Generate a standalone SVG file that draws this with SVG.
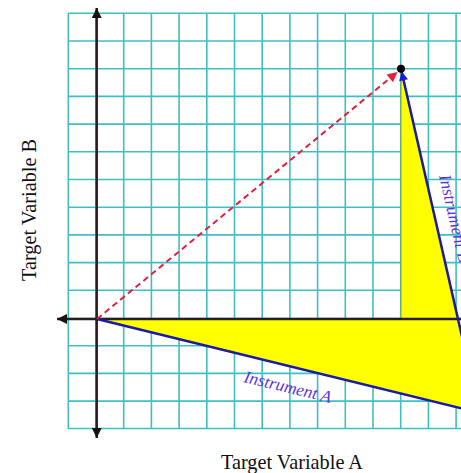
<svg xmlns="http://www.w3.org/2000/svg" width="461" height="473" viewBox="0 0 461 473">
<defs>
<style>
.grid line{stroke:#3fbfc4;stroke-width:1.6}
.axis{stroke:#2b1d1d;stroke-width:2.5;fill:none}
.blue{stroke:#1a1aa8;stroke-width:2.5;fill:none}
.red{stroke:#e0203c;stroke-width:2;stroke-dasharray:6 4;fill:none}
.lbl{font-family:"Liberation Serif","Times New Roman",serif;font-size:20.3px;fill:#111}
.inst{font-family:"Liberation Serif","Times New Roman",serif;font-style:italic;font-size:17.3px;fill:#5a35d8}
</style>
<marker id="ahAxis" viewBox="0 0 10 10" refX="10" refY="5" markerWidth="10" markerHeight="10" markerUnits="userSpaceOnUse" orient="auto-start-reverse"><path d="M0,0 L10,5 L0,10 z" fill="#1a1010"/></marker>
<marker id="ahRed" viewBox="0 0 10 10" refX="10" refY="5" markerWidth="12" markerHeight="10" markerUnits="userSpaceOnUse" orient="auto"><path d="M0,0 L10,5 L0,10 z" fill="#e0203c"/></marker>
<marker id="ahBlue" viewBox="0 0 10 10" refX="10" refY="5" markerWidth="11" markerHeight="9" markerUnits="userSpaceOnUse" orient="auto-start-reverse"><path d="M0,0 L10,5 L0,10 z" fill="#1a1ad8"/></marker>
</defs>
<rect width="461" height="473" fill="#fff"/>
<g id="grid" class="grid">
<line x1="68.3" y1="13.3" x2="68.3" y2="429"/>
<line x1="96" y1="13.3" x2="96" y2="429"/>
<line x1="123.7" y1="13.3" x2="123.7" y2="429"/>
<line x1="151.4" y1="13.3" x2="151.4" y2="429"/>
<line x1="179.1" y1="13.3" x2="179.1" y2="429"/>
<line x1="206.8" y1="13.3" x2="206.8" y2="429"/>
<line x1="234.5" y1="13.3" x2="234.5" y2="429"/>
<line x1="262.2" y1="13.3" x2="262.2" y2="429"/>
<line x1="289.9" y1="13.3" x2="289.9" y2="429"/>
<line x1="317.6" y1="13.3" x2="317.6" y2="429"/>
<line x1="345.3" y1="13.3" x2="345.3" y2="429"/>
<line x1="373" y1="13.3" x2="373" y2="429"/>
<line x1="400.7" y1="13.3" x2="400.7" y2="429"/>
<line x1="428.4" y1="13.3" x2="428.4" y2="429"/>
<line x1="456.1" y1="13.3" x2="456.1" y2="429"/>
<line x1="68.3" y1="13.3" x2="461" y2="13.3"/>
<line x1="68.3" y1="41" x2="461" y2="41"/>
<line x1="68.3" y1="68.7" x2="461" y2="68.7"/>
<line x1="68.3" y1="96.4" x2="461" y2="96.4"/>
<line x1="68.3" y1="124.1" x2="461" y2="124.1"/>
<line x1="68.3" y1="151.8" x2="461" y2="151.8"/>
<line x1="68.3" y1="179.5" x2="461" y2="179.5"/>
<line x1="68.3" y1="207.2" x2="461" y2="207.2"/>
<line x1="68.3" y1="234.9" x2="461" y2="234.9"/>
<line x1="68.3" y1="262.6" x2="461" y2="262.6"/>
<line x1="68.3" y1="290.3" x2="461" y2="290.3"/>
<line x1="68.3" y1="318.5" x2="461" y2="318.5"/>
<line x1="68.3" y1="345.7" x2="461" y2="345.7"/>
<line x1="68.3" y1="373.4" x2="461" y2="373.4"/>
<line x1="68.3" y1="401.1" x2="461" y2="401.1"/>
<line x1="68.3" y1="428.5" x2="461" y2="428.5"/>
</g>
<g id="region">
<polygon points="401,70 401,319 97,319 461,408 461,331" fill="#ffff00"/>
<line x1="401" y1="78" x2="401" y2="319" stroke="#9c9a1e" stroke-width="1"/>
</g>
<g id="axes">
<line class="axis" x1="96.7" y1="8" x2="96.7" y2="438" marker-start="url(#ahAxis)" marker-end="url(#ahAxis)"/>
<line class="axis" x1="57" y1="319" x2="461" y2="319" marker-start="url(#ahAxis)"/>
</g>
<g id="connectors">
<line class="blue" x1="97" y1="319" x2="466" y2="409.5"/>
<line class="blue" x1="401.6" y1="71.5" x2="466" y2="354" marker-start="url(#ahBlue)"/>
<line class="red" x1="97" y1="319" x2="397.5" y2="72" marker-end="url(#ahRed)"/>
</g>
<g id="point"><circle cx="401" cy="68.7" r="4" fill="#000"/></g>
<g id="labels">
<text class="inst" x="243" y="382" transform="rotate(13.5 243 382)">Instrument A</text>
<text class="inst" x="439" y="176" transform="rotate(77 439 176)">Instrument B</text>
<text class="lbl" x="292" y="469" text-anchor="middle">Target Variable A</text>
<text class="lbl" x="36" y="210" text-anchor="middle" transform="rotate(-90 36 210)">Target Variable B</text>
</g>
</svg>
